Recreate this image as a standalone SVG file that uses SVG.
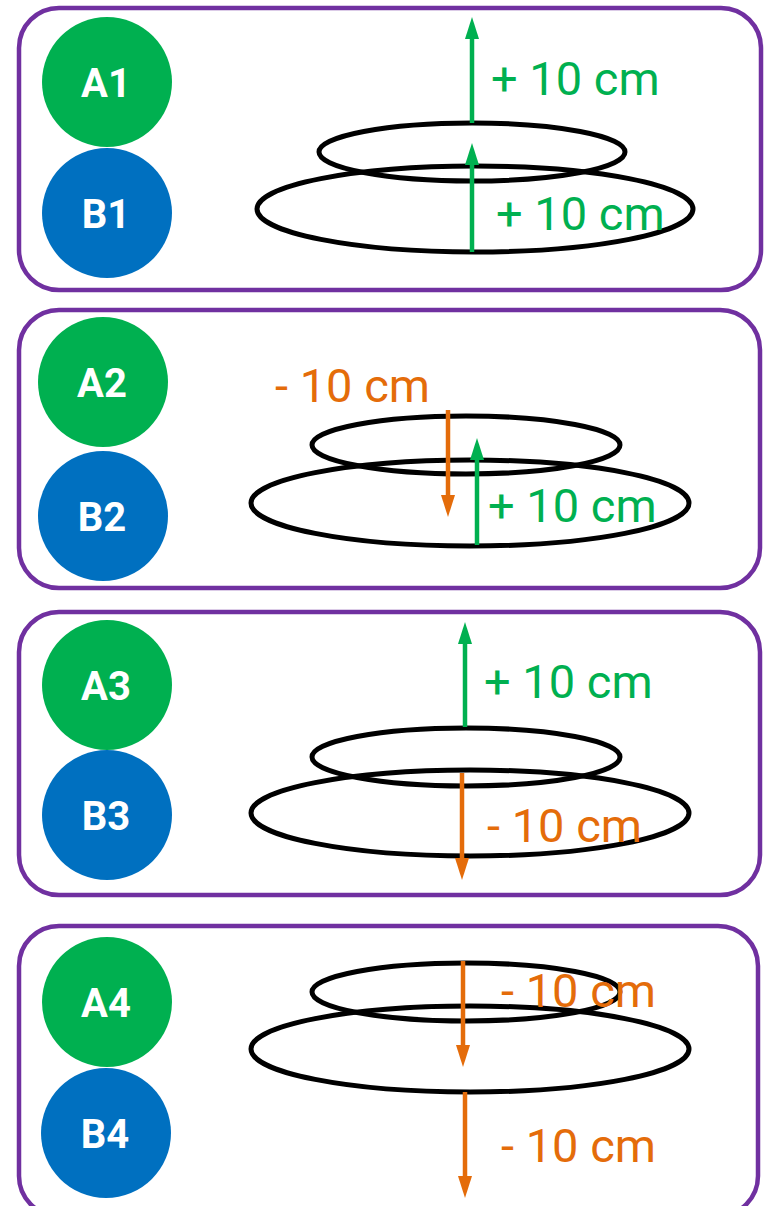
<svg xmlns="http://www.w3.org/2000/svg" width="765" height="1206" viewBox="0 0 765 1206">
<style>
.panel{fill:#fff;stroke:#7030A0;stroke-width:4.5}
.a{fill:#00B050}
.b{fill:#0070C0}
.lbl{font-family:Roboto,"Liberation Sans",sans-serif;font-weight:bold;font-size:40px;fill:#fff;text-anchor:middle}
.ring{fill:none;stroke:#000;stroke-width:5}
.up{stroke:#00B050;stroke-width:4.5;fill:none;marker-end:url(#mg)}
.dn{stroke:#E46C0A;stroke-width:4.5;fill:none;marker-end:url(#mo)}
.tg{font-family:Roboto,"Liberation Sans",sans-serif;font-size:47px;fill:#00B050}
.to{font-family:Roboto,"Liberation Sans",sans-serif;font-size:47px;fill:#E46C0A}
</style>
<defs>
<marker id="mg" markerUnits="userSpaceOnUse" markerWidth="22" markerHeight="16" viewBox="0 0 22 16" refX="8" refY="8" orient="auto"><path d="M0,1 L22,8 L0,15 z" fill="#00B050"/></marker>
<marker id="mo" markerUnits="userSpaceOnUse" markerWidth="22" markerHeight="16" viewBox="0 0 22 16" refX="8" refY="8" orient="auto"><path d="M0,1 L22,8 L0,15 z" fill="#E46C0A"/></marker>
</defs>

<g id="panel1">
<rect class="panel" x="19" y="8" width="742" height="282" rx="40"/>
<g id="A1"><circle class="a" cx="107" cy="82" r="65"/><text class="lbl" x="106" y="97">A1</text></g>
<g id="B1"><circle class="b" cx="107" cy="213" r="65"/><text class="lbl" x="106" y="228">B1</text></g>
<ellipse class="ring" cx="472" cy="152" rx="153" ry="29"/>
<ellipse class="ring" cx="475" cy="209" rx="218" ry="43"/>
</g>

<g id="panel2">
<rect class="panel" x="19" y="310" width="741" height="278" rx="40"/>
<g id="A2"><circle class="a" cx="103" cy="382" r="65"/><text class="lbl" x="102" y="397">A2</text></g>
<g id="B2"><circle class="b" cx="103" cy="516" r="65"/><text class="lbl" x="102" y="531">B2</text></g>
<ellipse class="ring" cx="466" cy="445" rx="154" ry="29"/>
<ellipse class="ring" cx="470" cy="503" rx="219" ry="43"/>
</g>

<g id="panel3">
<rect class="panel" x="19" y="612" width="741" height="283" rx="40"/>
<g id="A3"><circle class="a" cx="107" cy="685" r="65"/><text class="lbl" x="106" y="700">A3</text></g>
<g id="B3"><circle class="b" cx="107" cy="815" r="65"/><text class="lbl" x="106" y="830">B3</text></g>
<ellipse class="ring" cx="466" cy="757" rx="154" ry="29"/>
<ellipse class="ring" cx="470" cy="813" rx="219" ry="43"/>
</g>

<g id="panel4">
<rect class="panel" x="19" y="926" width="739" height="290" rx="40"/>
<g id="A4"><circle class="a" cx="107" cy="1002" r="65"/><text class="lbl" x="106" y="1017">A4</text></g>
<g id="B4"><circle class="b" cx="106" cy="1133" r="65"/><text class="lbl" x="105" y="1148">B4</text></g>
<ellipse class="ring" cx="466" cy="992" rx="154" ry="29"/>
<ellipse class="ring" cx="470" cy="1049" rx="219" ry="43"/>
</g>

<g id="connectors">
<line class="up" x1="472" y1="123" x2="472" y2="31"/>
<line class="up" x1="472" y1="252" x2="472" y2="157"/>
<line class="dn" x1="448" y1="410" x2="448" y2="503"/>
<line class="up" x1="477" y1="545" x2="477" y2="452"/>
<line class="up" x1="465" y1="727" x2="465" y2="636"/>
<line class="dn" x1="462" y1="773" x2="462" y2="866"/>
<line class="dn" x1="463" y1="961" x2="463" y2="1053"/>
<line class="dn" x1="465" y1="1092" x2="465" y2="1184"/>
</g>

<g id="labels">
<text class="tg" x="491" y="95">+ 10 cm</text>
<text class="tg" x="496" y="230">+ 10 cm</text>
<text class="to" x="275" y="402">- 10 cm</text>
<text class="tg" x="488" y="522">+ 10 cm</text>
<text class="tg" x="484" y="698">+ 10 cm</text>
<text class="to" x="487" y="842">- 10 cm</text>
<text class="to" x="501" y="1007">- 10 cm</text>
<text class="to" x="501" y="1162">- 10 cm</text>
</g>
</svg>
